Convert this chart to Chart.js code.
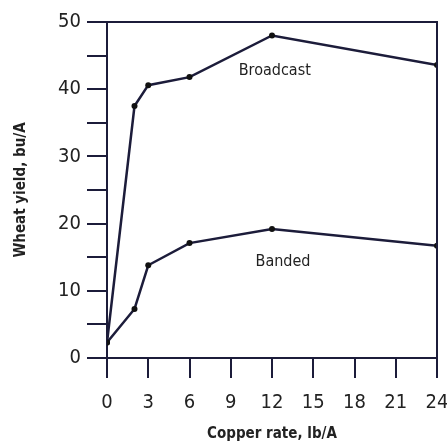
<!DOCTYPE html>
<html>
<head>
<meta charset="utf-8">
<script src="https://cdn.jsdelivr.net/npm/chart.js@4.4.1/dist/chart.umd.min.js"></script>
<style>
  html, body { margin: 0; padding: 0; background: #fff; }
  #wrap { width: 447px; height: 447px; }
</style>
</head>
<body>
<div id="wrap"><canvas id="chart" width="447" height="447"></canvas></div>
<script>
// copper rate (lb/A) vs wheat yield (bu/A)
const copperRate = [0, 2, 3, 6, 12, 24];
const broadcastYield = [2.3, 37.5, 40.6, 41.8, 48.0, 43.6];
const bandedYield = [2.3, 7.3, 13.8, 17.1, 19.2, 16.7];
const xTicks = [0, 3, 6, 9, 12, 15, 18, 21, 24];
const yLabels = [0, 10, 20, 30, 40, 50];
const seriesNotes = [
  { text: 'Broadcast', x: 12.2, y: 42.7 },
  { text: 'Banded', x: 12.8, y: 14.3 }
];

const INK = '#1c1c3a';
const FONT = '"Liberation Sans Narrow", "DejaVu Sans Condensed", "Liberation Sans", Arial, sans-serif';

function toPoints(ys) {
  return copperRate.map((x, i) => ({ x, y: ys[i] }));
}

const frameAndNotes = {
  id: 'frameAndNotes',
  afterDatasetsDraw(chart) {
    const { ctx, chartArea: a, scales } = chart;
    ctx.save();
    ctx.strokeStyle = INK;
    ctx.lineWidth = 2;
    ctx.beginPath();
    ctx.moveTo(a.left, a.top);
    ctx.lineTo(a.right, a.top);
    ctx.lineTo(a.right, a.bottom);
    ctx.stroke();
    ctx.fillStyle = '#222';
    ctx.font = '16px ' + FONT;
    ctx.textAlign = 'center';
    ctx.textBaseline = 'middle';
    seriesNotes.forEach(n => {
      ctx.fillText(n.text, scales.x.getPixelForValue(n.x), scales.y.getPixelForValue(n.y));
    });
    ctx.restore();
  }
};

const lineStyle = {
  borderColor: INK, backgroundColor: INK, borderWidth: 2.5,
  pointRadius: 3, pointBackgroundColor: '#111', pointBorderWidth: 0, tension: 0
};

new Chart(document.getElementById('chart'), {
  type: 'scatter',
  data: {
    datasets: [
      { label: 'Broadcast', data: toPoints(broadcastYield), showLine: true, ...lineStyle },
      { label: 'Banded', data: toPoints(bandedYield), showLine: true, ...lineStyle }
    ]
  },
  options: {
    responsive: false, animation: false,
    layout: { padding: { top: 22, right: 10, left: 0, bottom: 0 } },
    plugins: { legend: { display: false }, tooltip: { enabled: false } },
    scales: {
      x: {
        type: 'linear', min: 0, max: 24,
        afterBuildTicks: s => { s.ticks = xTicks.map(v => ({ value: v })); },
        afterFit: s => { s.height = 89; s.paddingLeft = 0; s.paddingRight = 0; },
        grid: { drawOnChartArea: false, drawTicks: true, tickLength: 20, color: INK, lineWidth: 2 },
        border: { color: INK, width: 2 },
        ticks: { color: '#222', font: { family: FONT, size: 20 }, padding: 13, maxRotation: 0, autoSkip: false },
        title: { display: true, text: 'Copper rate, lb/A', color: '#222', font: { family: FONT, size: 15, weight: 'bold' }, padding: { top: 14 } }
      },
      y: {
        min: 0, max: 50,
        ticks: {
          stepSize: 5, color: '#222', font: { family: FONT, size: 20 }, padding: 6,
          callback: v => yLabels.includes(v) ? String(v) : ''
        },
        afterFit: s => { s.width = 107; s.paddingTop = 0; s.paddingBottom = 0; },
        grid: { drawOnChartArea: false, drawTicks: true, tickLength: 20, color: INK, lineWidth: 2 },
        border: { color: INK, width: 2 },
        title: { display: true, text: 'Wheat yield, bu/A', color: '#222', font: { family: FONT, size: 15, weight: 'bold' }, padding: { top: 12, bottom: 2 } }
      }
    }
  },
  plugins: [frameAndNotes]
});
</script>
</body>
</html>
